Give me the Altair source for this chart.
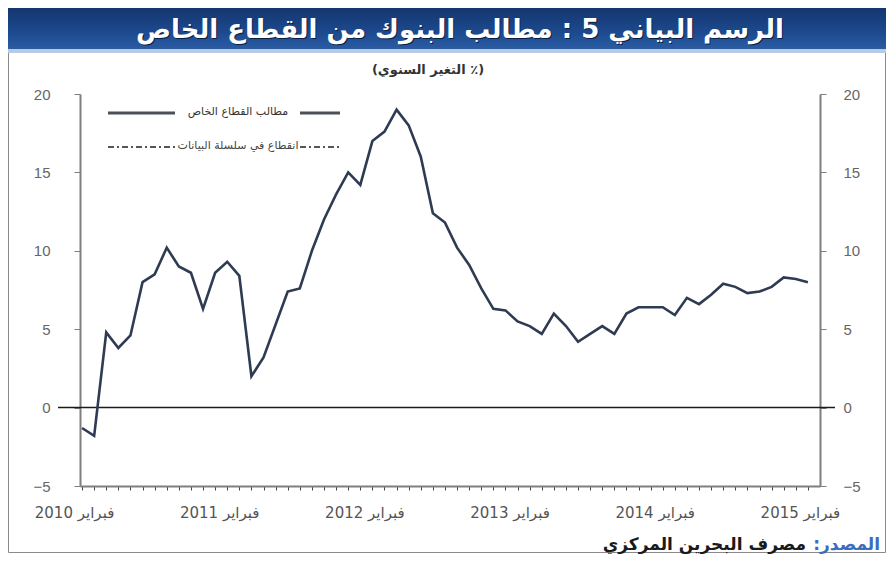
import altair as alt
import pandas as pd

# Monthly year-on-year growth (%), Feb 2010 .. Feb 2015
values = [-1.3, -1.8, 4.8, 3.8, 4.6, 8.0, 8.5, 10.2, 9.0, 8.6,
          6.3, 8.6, 9.3, 8.4, 2.0, 3.2, 5.3, 7.4, 7.6, 10.0,
          12.0, 13.6, 15.0, 14.2, 17.0, 17.6, 19.0, 18.0, 16.0, 12.4,
          11.8, 10.2, 9.1, 7.6, 6.3, 6.2, 5.5, 5.2, 4.7, 6.0,
          5.2, 4.2, 4.7, 5.2, 4.7, 6.0, 6.4, 6.4, 6.4, 5.9,
          7.0, 6.6, 7.2, 7.9, 7.7, 7.3, 7.4, 7.7, 8.3, 8.2, 8.0]
month_idx = list(range(len(values)))
label_years = [2010, 2011, 2012, 2013, 2014, 2015]
label_month = "فبراير"
y_ticks = [-5, 0, 5, 10, 15, 20]

title_text = "الرسم البياني 5 : مطالب البنوك من القطاع الخاص"
subtitle_text = "(التغير السنوي ٪)"
legend_1 = "مطالب القطاع الخاص"
legend_2 = "انقطاع في سلسلة البيانات"
source_lbl = "المصدر:\u200f"
source_txt = "مصرف البحرين المركزي"

W, H = 740, 392
df = pd.DataFrame({"m": month_idx, "v": values})
one = pd.DataFrame({"a": [0]})

xscale = alt.Scale(domain=[-0.17, 61.0], nice=False, zero=False)
yscale = alt.Scale(domain=[-5, 20], nice=False)

label_expr = ("datum.value % 12 === 0 ? '" + label_month + " ' + (" +
              str(label_years[0]) + " + datum.value / 12) : ''")

xaxis = alt.Axis(values=month_idx, labelExpr=label_expr, tickSize=4,
                 tickColor="#444", domainColor="#7f7f7f", domainWidth=2,
                 labelFont="DejaVu Sans", labelFontSize=15, labelColor="#555",
                 labelPadding=15, labelOffset=-8, grid=False, title=None,
                 labelOverlap=False, labelFlush=False)
yaxis_left = alt.Axis(values=y_ticks, orient="left", tickSize=6, tickColor="#7f7f7f",
                      domainColor="#7f7f7f", domainWidth=2, labelFont="Liberation Sans",
                      labelFontSize=15, labelColor="#666", labelPadding=24,
                      grid=False, title=None)
yaxis_right = alt.Axis(values=y_ticks, orient="right", tickSize=6, tickColor="#7f7f7f",
                       domainColor="#7f7f7f", domainWidth=2, labelFont="Liberation Sans",
                       labelFontSize=15, labelColor="#666", labelPadding=17,
                       grid=False, title=None)

zero_rule = alt.Chart(one).mark_rule(color="#1a1a1a", strokeWidth=1.5).encode(
    y=alt.YDatum(0, scale=yscale, axis=None), x=alt.value(-22), x2=alt.value(755))

line = alt.Chart(df).mark_line(color="#2f3b52", strokeWidth=2.6).encode(
    x=alt.X("m:Q", scale=xscale, axis=xaxis),
    y=alt.Y("v:Q", scale=yscale, axis=yaxis_left))

right = alt.Chart(df).mark_line(opacity=0).encode(
    x=alt.X("m:Q", scale=xscale, axis=xaxis),
    y=alt.Y("v:Q", scale=yscale, axis=yaxis_right))

# decorations
frame = alt.Chart(one).mark_rect(fillOpacity=0, stroke="#8a8a8a", strokeWidth=1).encode(
    x=alt.value(-71.5), x2=alt.value(805.5), y=alt.value(-85.5), y2=alt.value(458.5))

bar = alt.Chart(one).mark_rect(
    fill=alt.Gradient(gradient="linear",
                      stops=[alt.GradientStop(color="#143670", offset=0),
                             alt.GradientStop(color="#1d4a8e", offset=0.6),
                             alt.GradientStop(color="#2a5ca4", offset=1)],
                      x1=0, x2=0, y1=0, y2=1)).encode(
    x=alt.value(-72), x2=alt.value(806), y=alt.value(-86), y2=alt.value(-45))
bar_edge = alt.Chart(one).mark_rect(color="#b9c9e0").encode(
    x=alt.value(-72), x2=alt.value(806), y=alt.value(-45), y2=alt.value(-41))

title_shadow = alt.Chart(one).mark_text(text=title_text, font="DejaVu Sans", fontSize=26,
                                        fontWeight="bold", color="#0b1e40").encode(
    x=alt.value(381), y=alt.value(-63))
title = alt.Chart(one).mark_text(text=title_text, font="DejaVu Sans", fontSize=26,
                                 fontWeight="bold", color="#ffffff").encode(
    x=alt.value(380), y=alt.value(-64))
subtitle = alt.Chart(one).mark_text(text=subtitle_text, font="DejaVu Sans", fontSize=13,
                                    fontWeight="bold", color="#333").encode(
    x=alt.value(348), y=alt.value(-24))

leg1_a = alt.Chart(one).mark_rule(color="#4a4f5a", strokeWidth=3).encode(
    x=alt.value(28), x2=alt.value(95), y=alt.value(19))
leg1_b = alt.Chart(one).mark_rule(color="#4a4f5a", strokeWidth=3).encode(
    x=alt.value(220), x2=alt.value(260), y=alt.value(19))
leg1_t = alt.Chart(one).mark_text(text=legend_1, font="DejaVu Sans", fontSize=11,
                                  color="#333", align="center").encode(
    x=alt.value(158), y=alt.value(18))
leg2_a = alt.Chart(one).mark_rule(color="#555", strokeWidth=2, strokeDash=[6, 3, 2, 3]).encode(
    x=alt.value(28), x2=alt.value(95), y=alt.value(53))
leg2_b = alt.Chart(one).mark_rule(color="#555", strokeWidth=2, strokeDash=[6, 3, 2, 3]).encode(
    x=alt.value(220), x2=alt.value(262), y=alt.value(53))
leg2_t = alt.Chart(one).mark_text(text=legend_2, font="DejaVu Sans", fontSize=11,
                                  color="#444", align="center").encode(
    x=alt.value(158), y=alt.value(52))

src_lbl = alt.Chart(one).mark_text(text=source_lbl, font="DejaVu Sans", fontSize=17,
                                   fontWeight="bold", color="#3b6cc0", align="right").encode(
    x=alt.value(800), y=alt.value(451))
src_txt = alt.Chart(one).mark_text(text=source_txt, font="DejaVu Sans", fontSize=17,
                                   fontWeight="bold", color="#1a1a1a", align="right").encode(
    x=alt.value(726), y=alt.value(451))

chart = alt.layer(
    frame, bar, bar_edge, title_shadow, title, subtitle,
    zero_rule, line, right,
    leg1_a, leg1_b, leg1_t, leg2_a, leg2_b, leg2_t, src_lbl, src_txt
).resolve_axis(y="independent").properties(
    width=W, height=H,
    autosize=alt.AutoSizeParams(type="none"),
    padding={"left": 72, "top": 86, "right": 66, "bottom": 68},
).configure_view(stroke=None)

chart.save("out.html", embed_options={"renderer": "svg", "actions": False})
